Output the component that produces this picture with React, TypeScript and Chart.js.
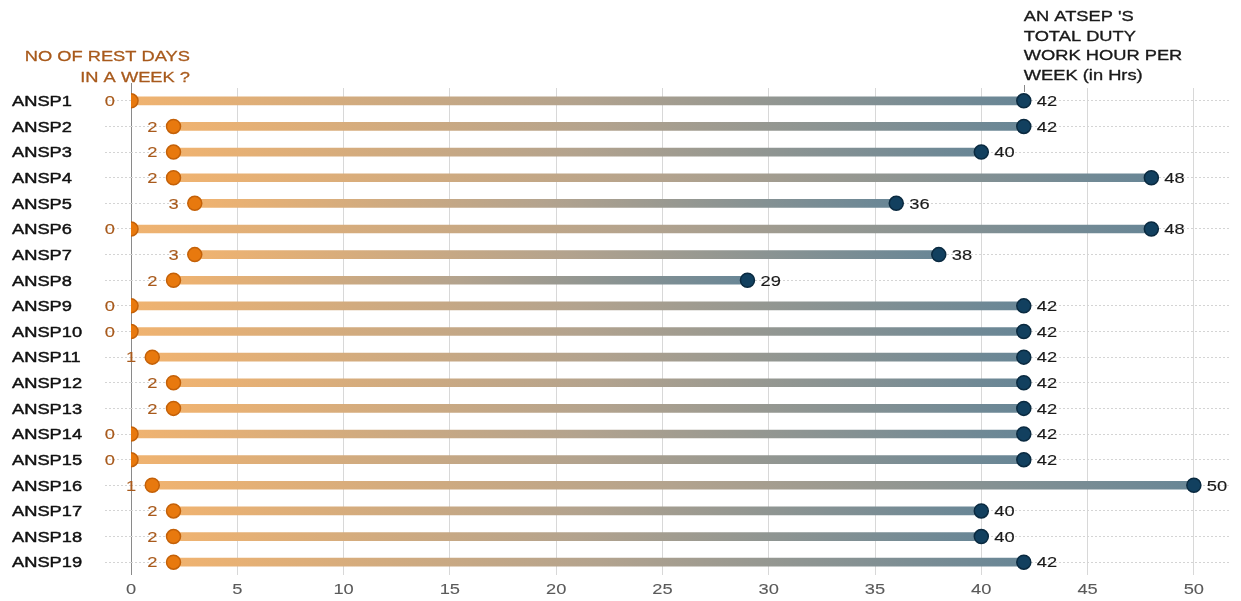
import React, { useEffect, useRef } from "react";
import { Chart, registerables } from "chart.js";

Chart.register(...registerables);

const categories = [
  "ANSP1", "ANSP2", "ANSP3", "ANSP4", "ANSP5", "ANSP6", "ANSP7", "ANSP8", "ANSP9", "ANSP10",
  "ANSP11", "ANSP12", "ANSP13", "ANSP14", "ANSP15", "ANSP16", "ANSP17", "ANSP18", "ANSP19",
];
const restDays = [0, 2, 2, 2, 3, 0, 3, 2, 0, 0, 1, 2, 2, 0, 0, 1, 2, 2, 2];
const dutyHours = [42, 42, 40, 48, 36, 48, 38, 29, 42, 42, 42, 42, 42, 42, 42, 50, 40, 40, 42];
const xTicks = [0, 5, 10, 15, 20, 25, 30, 35, 40, 45, 50];
const leftTitle = ["NO OF REST DAYS", "IN A WEEK ?"];
const rightTitle = ["AN ATSEP 'S", "TOTAL DUTY", "WORK HOUR PER", "WEEK (in Hrs)"];

const FONT = "'Liberation Sans', Arial, sans-serif";
const STRETCH = 1.18;

function stretchedText(
  c: CanvasRenderingContext2D,
  text: string,
  x: number,
  y: number,
  align: CanvasTextAlign,
  color: string,
  font: string,
  bolden = 0
) {
  c.save();
  c.translate(x, y);
  c.scale(STRETCH, 1);
  c.font = font;
  c.textAlign = align;
  c.textBaseline = "middle";
  c.fillStyle = color;
  c.fillText(text, 0, 0);
  if (bolden > 0) {
    c.strokeStyle = color;
    c.lineWidth = bolden;
    c.lineJoin = "round";
    c.strokeText(text, 0, 0);
  }
  c.restore();
}

export default function App() {
  const ref = useRef<HTMLCanvasElement | null>(null);

  useEffect(() => {
    document.body.style.margin = "0";
    const canvas = ref.current;
    if (!canvas) return;

    const textPlugin = {
      id: "textLayer",
      afterDatasetsDraw(chart: any) {
        const c = chart.ctx as CanvasRenderingContext2D;
        const startMeta = chart.getDatasetMeta(1);
        const endMeta = chart.getDatasetMeta(2);
        startMeta.data.forEach((pt: any, i: number) => {
          stretchedText(c, String(restDays[i]), pt.x - 16, pt.y + 1, "right", "#A85A1C", `15.5px ${FONT}`, 0.15);
        });
        endMeta.data.forEach((pt: any, i: number) => {
          stretchedText(c, String(dutyHours[i]), pt.x + 13, pt.y + 1, "left", "#1a1a1a", `15.5px ${FONT}`, 0.15);
        });
      },
      afterDraw(chart: any) {
        const c = chart.ctx as CanvasRenderingContext2D;
        const xs = chart.scales.x;
        const ys = chart.scales.y;
        const area = chart.chartArea;
        categories.forEach((cat, i) => {
          stretchedText(c, cat, 12, ys.getPixelForTick(i) + 1, "left", "#111", `15.5px ${FONT}`, 0.45);
        });
        xTicks.forEach((v) => {
          stretchedText(c, String(v), xs.getPixelForValue(v), area.bottom + 15, "center", "#5a5a5a", `15.5px ${FONT}`, 0.1);
        });
        leftTitle.forEach((t, i) => {
          stretchedText(c, t, 190, 57 + i * 21, "right", "#A85A1C", `15.5px ${FONT}`, 0.3);
        });
        const rx = xs.getPixelForValue(42);
        rightTitle.forEach((t, i) => {
          stretchedText(c, t, rx, 17 + i * 19.5, "left", "#1a1a1a", `15.5px ${FONT}`, 0.35);
        });
        c.save();
        c.strokeStyle = "#888";
        c.lineWidth = 1;
        c.beginPath();
        const x0 = Math.round(xs.getPixelForValue(0)) + 0.5;
        c.moveTo(x0, 83);
        c.lineTo(x0, area.top);
        c.moveTo(Math.round(rx) + 0.5, 85);
        c.lineTo(Math.round(rx) + 0.5, 92);
        c.stroke();
        c.restore();
      },
    };

    const chart = new Chart(canvas, {
      type: "bar",
      data: {
        labels: categories,
        datasets: [
          {
            type: "bar",
            data: restDays.map((s, i) => [s, dutyHours[i]]) as any,
            barThickness: 8,
            order: 2,
            backgroundColor: (ctx: any) => {
              const chart = ctx.chart;
              const xs = chart.scales?.x;
              const raw = ctx.raw;
              if (!xs || !raw || !Array.isArray(raw)) return "#B0A090";
              const a = xs.getPixelForValue(raw[0]);
              const b = xs.getPixelForValue(raw[1]);
              if (!isFinite(a) || !isFinite(b)) return "#B0A090";
              const g = chart.ctx.createLinearGradient(a, 0, b, 0);
              g.addColorStop(0, "#F0B370");
              g.addColorStop(0.5, "#B3A38E");
              g.addColorStop(1, "#688696");
              return g;
            },
          } as any,
          {
            type: "line",
            data: restDays,
            showLine: false,
            order: 1,
            pointRadius: 7,
            pointHoverRadius: 7,
            pointBackgroundColor: "#E8790E",
            pointBorderColor: "#C46108",
            pointBorderWidth: 1.5,
          } as any,
          {
            type: "line",
            data: dutyHours,
            showLine: false,
            order: 0,
            pointRadius: 7,
            pointHoverRadius: 7,
            pointBackgroundColor: "#12405F",
            pointBorderColor: "#0A2A40",
            pointBorderWidth: 1.5,
          } as any,
        ],
      },
      options: {
        indexAxis: "y",
        animation: false,
        responsive: false,
        maintainAspectRatio: false,
        layout: { padding: { left: 12, top: 88, right: 11, bottom: 0 } },
        plugins: { legend: { display: false }, tooltip: { enabled: false }, title: { display: false } },
        scales: {
          x: {
            type: "linear",
            min: 0,
            max: 51.7,
            afterBuildTicks: (scale: any) => {
              scale.ticks = xTicks.map((v) => ({ value: v }));
            },
            afterFit: (scale: any) => {
              scale.height = 26;
            },
            border: { display: false },
            grid: {
              color: (ctx: any) => (ctx.tick && ctx.tick.value === 0 ? "#8a8a8a" : "#d8d8d8"),
              drawTicks: false,
              lineWidth: 1,
            },
            ticks: { display: false },
          },
          y: {
            type: "category",
            offset: true,
            afterFit: (scale: any) => {
              scale.width = 119;
            },
            border: { display: false, dash: [2, 2] },
            grid: {
              offset: false,
              color: "#d4d4d4",
              tickBorderDash: [2, 2],
              drawTicks: true,
              tickLength: 26,
              tickColor: "#d4d4d4",
            },
            ticks: { display: false },
          },
        },
      } as any,
      plugins: [textPlugin],
    });

    return () => chart.destroy();
  }, []);

  return (
    <div style={{ width: 1241, height: 601 }}>
      <canvas ref={ref} width={1241} height={601} style={{ display: "block" }} />
    </div>
  );
}
